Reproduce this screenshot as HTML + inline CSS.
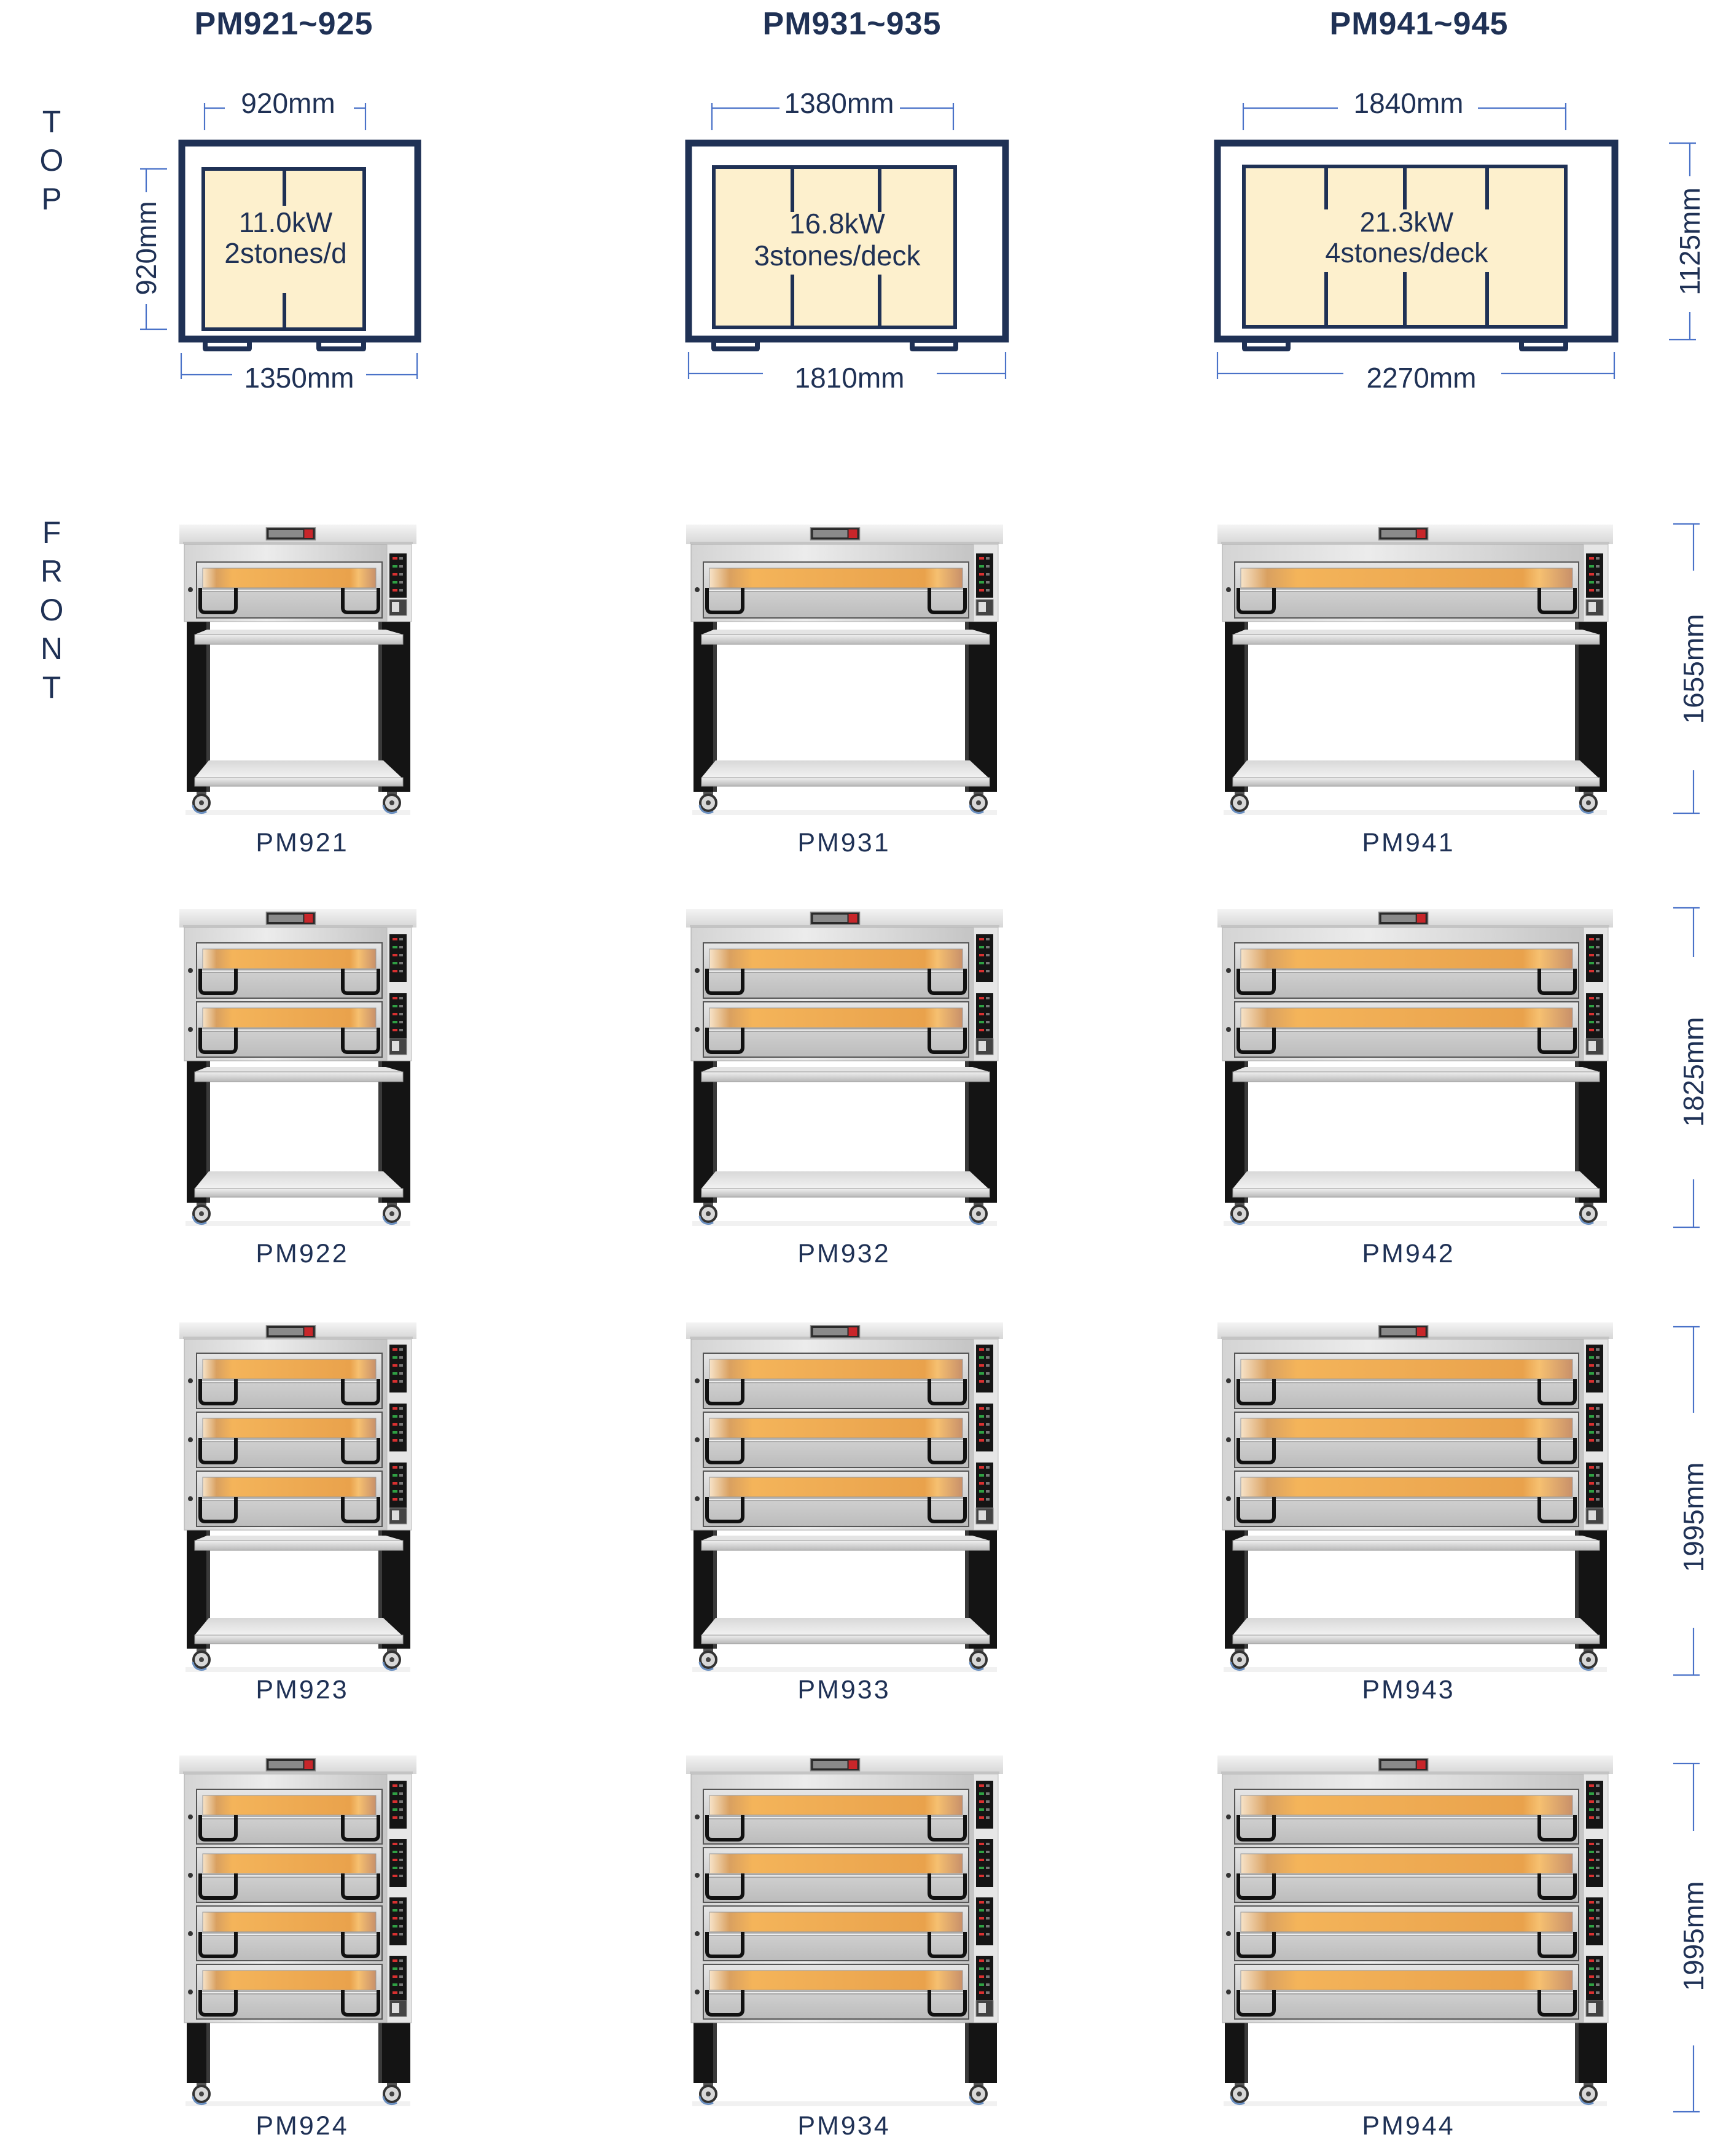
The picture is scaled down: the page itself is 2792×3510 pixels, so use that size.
<!DOCTYPE html>
<html><head><meta charset="utf-8"><style>
html,body{margin:0;padding:0;background:#fff;}
svg{display:block;}
.t{font-family:"Liberation Sans",sans-serif;fill:#1f3155;}
.dl{stroke:#4a72c8;stroke-width:2.2;fill:none;}
</style></head><body>
<svg id="s" width="2792" height="3510" viewBox="0 0 2792 3510" xmlns="http://www.w3.org/2000/svg">
<defs>
<linearGradient id="slab" x1="0" y1="0" x2="0" y2="1"><stop offset="0" stop-color="#f4f4f4"/><stop offset="1" stop-color="#d6d6d6"/></linearGradient>
<linearGradient id="steel" x1="0" y1="0" x2="1" y2="0"><stop offset="0" stop-color="#d4d4d4"/><stop offset="0.4" stop-color="#ececec"/><stop offset="1" stop-color="#c4c4c4"/></linearGradient>
<linearGradient id="door" x1="0" y1="0" x2="0" y2="1"><stop offset="0" stop-color="#e6e6e6"/><stop offset="0.5" stop-color="#d0d0d0"/><stop offset="1" stop-color="#bcbcbc"/></linearGradient>
<linearGradient id="win" x1="0" y1="0" x2="1" y2="0"><stop offset="0" stop-color="#f7e3c8"/><stop offset="0.08" stop-color="#d9a060"/><stop offset="0.17" stop-color="#f4b45a"/><stop offset="0.85" stop-color="#e9a24c"/><stop offset="0.9" stop-color="#f6c070"/><stop offset="1" stop-color="#c8906a"/></linearGradient>
<linearGradient id="shelf" x1="0" y1="0" x2="0" y2="1"><stop offset="0" stop-color="#f0f0f0"/><stop offset="1" stop-color="#b8b8b8"/></linearGradient>
<linearGradient id="shelft" x1="0" y1="0" x2="0" y2="1"><stop offset="0" stop-color="#d8d8d8"/><stop offset="1" stop-color="#f2f2f2"/></linearGradient>
</defs>

<text class="t" x="462" y="56" font-size="52" font-weight="bold" text-anchor="middle" letter-spacing="1">PM921~925</text>
<text class="t" x="1387" y="56" font-size="52" font-weight="bold" text-anchor="middle" letter-spacing="1">PM931~935</text>
<text class="t" x="2310" y="56" font-size="52" font-weight="bold" text-anchor="middle" letter-spacing="1">PM941~945</text>

<g class="t" font-size="50" text-anchor="middle" fill="#2a3a64">
<text x="84" y="215">T</text><text x="84" y="278">O</text><text x="84" y="341">P</text>
<text x="84" y="884">F</text><text x="84" y="947">R</text><text x="84" y="1010">O</text><text x="84" y="1073">N</text><text x="84" y="1136">T</text>
</g>

<g>
<rect x="296" y="233" width="384" height="319" fill="#fff" stroke="#1f3155" stroke-width="11"/>
<rect x="331" y="275" width="262" height="261" fill="#fdf0cd" stroke="#1f3155" stroke-width="6"/>
<line x1="463" y1="275" x2="463" y2="335" stroke="#1f3155" stroke-width="6"/>
<line x1="463" y1="477" x2="463" y2="536" stroke="#1f3155" stroke-width="6"/>
<path d="M330 557 h80 v10 q0 5 -5 5 h-70 q-5 0 -5 -5z" fill="#1f3155"/><rect x="338" y="558" width="64" height="6" fill="#fff"/>
<path d="M515 557 h81 v10 q0 5 -5 5 h-71 q-5 0 -5 -5z" fill="#1f3155"/><rect x="523" y="558" width="65" height="6" fill="#fff"/>
<text class="t" x="465" y="378" font-size="46" text-anchor="middle">11.0kW</text>
<text class="t" x="465" y="428" font-size="46" text-anchor="middle">2stones/d</text>
<path class="dl" d="M333 168v44M333 176h33M576 176h19M595 168v44"/>
<text class="t" x="469" y="184" font-size="46" text-anchor="middle">920mm</text>
<path class="dl" d="M228 275h44M238 275v38M238 495v41M228 536h44"/>
<text class="t" transform="translate(254,404) rotate(-90)" font-size="46" text-anchor="middle">920mm</text>
<path class="dl" d="M295 575v42M295 610h83M596 610h83M679 575v42"/>
<text class="t" x="487" y="631" font-size="46" text-anchor="middle">1350mm</text>
</g>

<g>
<rect x="1121" y="233" width="516" height="319" fill="#fff" stroke="#1f3155" stroke-width="11"/>
<rect x="1162" y="272" width="393" height="261" fill="#fdf0cd" stroke="#1f3155" stroke-width="6"/>
<path d="M1290 272v73M1290 447v86M1432 272v73M1432 447v86" stroke="#1f3155" stroke-width="6"/>
<path d="M1158 557 h79 v10 q0 5 -5 5 h-69 q-5 0 -5 -5z" fill="#1f3155"/><rect x="1166" y="558" width="63" height="6" fill="#fff"/>
<path d="M1481 557 h79 v10 q0 5 -5 5 h-69 q-5 0 -5 -5z" fill="#1f3155"/><rect x="1489" y="558" width="63" height="6" fill="#fff"/>
<text class="t" x="1363" y="380" font-size="46" text-anchor="middle">16.8kW</text>
<text class="t" x="1363" y="432" font-size="46" text-anchor="middle">3stones/deck</text>
<path class="dl" d="M1159 168v44M1159 176h110M1465 176h87M1552 168v44"/>
<text class="t" x="1366" y="184" font-size="46" text-anchor="middle">1380mm</text>
<path class="dl" d="M1121 573v44M1121 608h121M1525 608h112M1637 573v44"/>
<text class="t" x="1383" y="631" font-size="46" text-anchor="middle">1810mm</text>
</g>

<g>
<rect x="1982" y="233" width="647" height="319" fill="#fff" stroke="#1f3155" stroke-width="11"/>
<rect x="2025" y="271" width="524" height="261" fill="#fdf0cd" stroke="#1f3155" stroke-width="6"/>
<path d="M2159 271v70M2159 443v89M2287 271v70M2287 443v89M2421 271v70M2421 443v89" stroke="#1f3155" stroke-width="6"/>
<path d="M2022 557 h79 v10 q0 5 -5 5 h-69 q-5 0 -5 -5z" fill="#1f3155"/><rect x="2030" y="558" width="63" height="6" fill="#fff"/>
<path d="M2473 557 h80 v10 q0 5 -5 5 h-70 q-5 0 -5 -5z" fill="#1f3155"/><rect x="2481" y="558" width="64" height="6" fill="#fff"/>
<text class="t" x="2290" y="377" font-size="45" text-anchor="middle">21.3kW</text>
<text class="t" x="2290" y="427" font-size="45" text-anchor="middle">4stones/deck</text>
<path class="dl" d="M2024 168v44M2024 176h154M2406 176h143M2549 168v44"/>
<text class="t" x="2293" y="184" font-size="46" text-anchor="middle">1840mm</text>
<path class="dl" d="M1982 573v44M1982 608h205M2444 608h184M2628 573v44"/>
<text class="t" x="2314" y="631" font-size="46" text-anchor="middle">2270mm</text>
<path class="dl" d="M2717 233h44M2751 233v54M2751 508v45M2717 553h44"/>
<text class="t" transform="translate(2767,393) rotate(-90)" font-size="46" text-anchor="middle">1125mm</text>
</g>

<g>
<path class="dl" d="M2724 853h43M2757 853v76M2757 1254v70M2724 1324h43"/>
<text class="t" transform="translate(2773,1089) rotate(-90)" font-size="46" text-anchor="middle">1655mm</text>
<path class="dl" d="M2724 1478h43M2757 1478v80M2757 1920v78M2724 1998h43"/>
<text class="t" transform="translate(2773,1745) rotate(-90)" font-size="46" text-anchor="middle">1825mm</text>
<path class="dl" d="M2724 2160h43M2757 2160v140M2757 2650v77M2724 2727h43"/>
<text class="t" transform="translate(2773,2470) rotate(-90)" font-size="46" text-anchor="middle">1995mm</text>
<path class="dl" d="M2724 2871h43M2757 2871v110M2757 3330v108M2724 3438h43"/>
<text class="t" transform="translate(2773,3152) rotate(-90)" font-size="46" text-anchor="middle">1995mm</text>
</g>

<g class="t" font-size="43" text-anchor="middle" letter-spacing="3" fill="#24386a">
<text x="492" y="1386">PM921</text><text x="1374" y="1386">PM931</text><text x="2293" y="1386">PM941</text>
<text x="492" y="2055">PM922</text><text x="1374" y="2055">PM932</text><text x="2293" y="2055">PM942</text>
<text x="492" y="2765">PM923</text><text x="1374" y="2765">PM933</text><text x="2293" y="2765">PM943</text>
<text x="492" y="3475">PM924</text><text x="1374" y="3475">PM934</text><text x="2293" y="3475">PM944</text>
</g>
<g id="ov"></g>
</svg>
<script>
(function(){
var cols=[[292,386],[1117,516],[1982,644]];
var rows=[
 {st:854,bt:886,dt:915,n:1,p:97,le:1289,sh:[1033,1266]},
 {st:1480,bt:1510,dt:1535,n:2,p:96,le:1958,sh:[1745,1935]},
 {st:2153,bt:2180,dt:2203,n:3,p:96,le:2684,sh:[2508,2662]},
 {st:2858,bt:2888,dt:2913,n:4,p:95,le:3391,sh:null}];
var o='';
function r(x,y,w,h,f,extra){o+='<rect x="'+x+'" y="'+y+'" width="'+w+'" height="'+h+'" fill="'+f+'" '+(extra||'')+'/>';}
cols.forEach(function(c){
 var X=c[0],W=c[1],R=X+W;
 rows.forEach(function(rw){
  var bb=rw.dt+rw.n*rw.p;
  var px=R-44,pw=32;
  r(X+10,rw.le+30,W-20,8,'#f1f1f1');
  r(X+12,bb,38,rw.le-bb,'#141414');
  r(R-62,bb,52,rw.le-bb,'#141414');
  r(X+44,bb,6,rw.le-bb,'#3a3a3a');
  r(R-62,bb,6,rw.le-bb,'#3a3a3a');
  [[X+36],[R-40]].forEach(function(w){
   var cx=w[0],cy=rw.le+18;
   r(cx-8,rw.le,16,8,'#555');
   o+='<circle cx="'+cx+'" cy="'+cy+'" r="13" fill="#d8d8d8" stroke="#333" stroke-width="4"/>';
   o+='<circle cx="'+cx+'" cy="'+cy+'" r="4" fill="#444"/>';
   o+='<path d="M'+(cx-14)+' '+(cy+4)+' a14 14 0 0 0 22 10" stroke="#6a8fc0" stroke-width="3" fill="none"/>';
  });
  if(rw.sh){
   var s1=rw.sh[0],s2=rw.sh[1];
   o+='<polygon points="'+(X+45)+','+(s1-8)+' '+(R-50)+','+(s1-8)+' '+(R-22)+','+s1+' '+(X+25)+','+s1+'" fill="#e4e4e4"/>';
   r(X+25,s1,W-47,16,'url(#shelf)','stroke="#999" stroke-width="1"');
   o+='<polygon points="'+(X+48)+','+(s2-28)+' '+(R-54)+','+(s2-28)+' '+(R-24)+','+s2+' '+(X+25)+','+s2+'" fill="url(#shelft)"/>';
   r(X+25,s2,W-47,14,'url(#shelf)','stroke="#999" stroke-width="1"');
  }
  r(X+8,rw.bt,px-X-8,bb-rw.bt,'url(#steel)','stroke="#aaa" stroke-width="1"');
  r(px-4,rw.bt,pw+8,bb-rw.bt,'#e6e6e6','stroke="#bbb" stroke-width="1"');
  r(X,rw.st,W,rw.bt-rw.st,'url(#slab)');
  r(X+6,rw.bt-4,W-12,4,'#c4c4c4');
  var lx=X+W*0.47-40;
  r(lx,rw.st+5,80,20,'#2a2a2a','stroke="#888" stroke-width="1.5"');
  r(lx+4,rw.st+9,56,12,'#8a8a8a');
  r(lx+62,rw.st+8,14,14,'#c8262a');
  var dx=X+28,dw=px-12-dx;
  for(var i=0;i<rw.n;i++){
   var t=rw.dt+i*rw.p;
   r(dx,t,dw,rw.p-6,'url(#door)','stroke="#555" stroke-width="2"');
   r(dx+10,t+10,dw-20,32,'url(#win)','stroke="#999" stroke-width="1"');
   r(dx+8,t+44,dw-16,4,'#eee','stroke="#777" stroke-width="1"');
   o+='<circle cx="'+(X+18)+'" cy="'+(t+45)+'" r="4" fill="#333"/>';
   var hy=t+42,hb=t+82;
   o+='<path d="M'+(dx+6)+' '+hy+' V'+(hb-8)+' q0 8 8 8 H'+(dx+56)+' q8 0 8 -8 V'+hy+'" stroke="#111" stroke-width="6" fill="none" stroke-linejoin="round"/>';
   o+='<path d="M'+(dx+dw-64)+' '+hy+' V'+(hb-8)+' q0 8 8 8 H'+(dx+dw-14)+' q8 0 8 -8 V'+hy+'" stroke="#111" stroke-width="6" fill="none" stroke-linejoin="round"/>';
   var ph=rw.n==1?72:78;
   r(px,t-14,pw-4,ph,'#151515');
   for(var k=0;k<5;k++){r(px+5,t-8+k*13,8,4,k%2?'#2fa043':'#d83030');r(px+16,t-8+k*13,6,4,'#777');}
   if(i==rw.n-1){r(px,bb-36,pw-4,26,'#444','stroke="#888" stroke-width="1"');r(px+4,bb-32,12,16,'#ddd');}
  }
 });
});
document.getElementById('ov').innerHTML=o;
})();
</script>
</body></html>
